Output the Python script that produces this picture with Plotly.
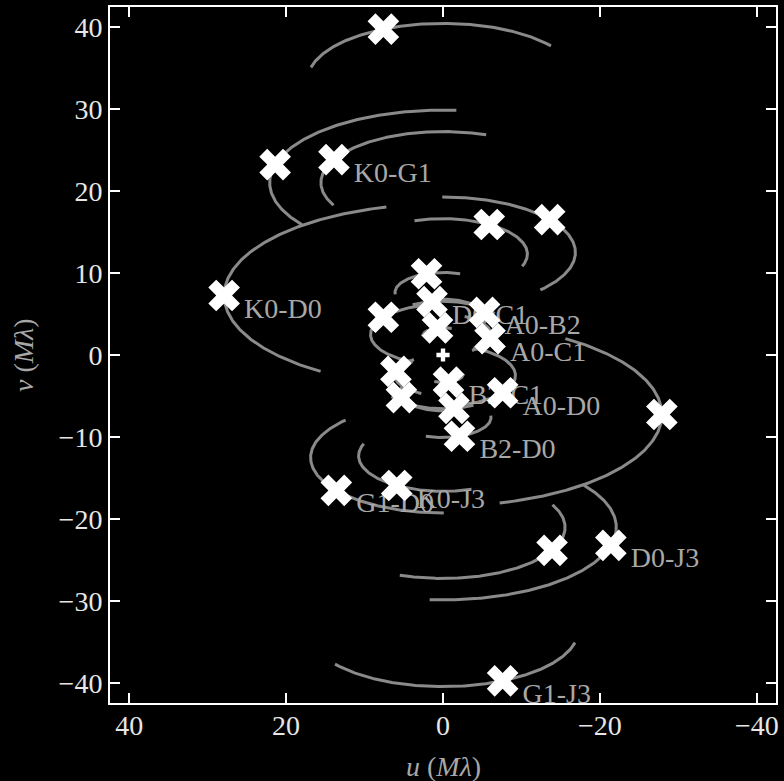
import numpy as np
import plotly.graph_objects as go

# ---- data ----
baselines = ["K0-D0", "K0-G1", "D0-J3", "G1-D0", "K0-J3", "G1-J3",
             "D0-C1", "A0-B2", "A0-C1", "B2-C1", "A0-D0", "B2-D0"]
# (u, v) of each baseline at the snapshot (M lambda)
u_snap = [27.9, 13.9, -21.4, 13.6, 5.9, -7.6, 1.4, -5.3, -6.0, -0.7, -7.6, -2.1]
v_snap = [7.25, 23.8, -23.2, -16.5, -15.9, -39.7, 6.5, 5.2, 2.0, -3.3, -4.6, -9.9]
# v-offset of the centre of each uv-track ellipse (M lambda)
v_centre = [7.25, 21.0, -21.0, -12.5, -12.3, -33.5, 3.5, 4.6, 2.5, -2.3, -2.5, -7.6]
# rotation sense of each track on the plane and its extent (deg) before / after the snapshot
sense = [1, 1, 1, 1, 1, 1, 1, -1, -1, -1, -1, -1]
deg_before = [56, 53, 50, 54, 53, 51, 20, 41, 41, 41, 41, 41]
deg_after = [75, 84, 80, 79, 77, 79, 70, 75, 75, 75, 100, 75]
axis_ratio = 0.4            # v/u semi-axis ratio of the uv ellipses

u_ticks = [40, 20, 0, -20, -40]
v_ticks = [40, 30, 20, 10, 0, -10, -20, -30, -40]
u_range = [42.45, -42.45]
v_range = [-42.4, 42.4]

TRACK = "#8a8a8a"
LABEL = "#a8a8a8"
FONT = "Liberation Serif, Times New Roman, serif"

W, H = 784, 781
ML, MR, MT, MB = 110, 5, 7, 78
px_per_u = (W - ML - MR) / (u_range[0] - u_range[1])
px_per_v = (H - MT - MB) / (v_range[1] - v_range[0])

fig = go.Figure()

# tracks (each baseline and its conjugate)
for um, vm, vc, sg, d0, d1 in zip(u_snap, v_snap, v_centre, sense, deg_before, deg_after):
    a = np.hypot(um, (vm - vc) / axis_ratio)
    b = axis_ratio * a
    tm = np.arctan2(um / a, (vc - vm) / b)
    t = tm + sg * np.radians(np.linspace(-d0, d1, 200))
    u = a * np.sin(t)
    v = vc - b * np.cos(t)
    for s in (1, -1):
        fig.add_trace(go.Scatter(x=s * u, y=s * v, mode="lines",
                                 line=dict(color=TRACK, width=3),
                                 hoverinfo="skip", showlegend=False))

# baseline labels (drawn beneath the markers)
lab_u = [x - 20 / px_per_u for x in u_snap]
lab_v = [y - 15 / px_per_v for y in v_snap]
fig.add_trace(go.Scatter(x=lab_u, y=lab_v, mode="text", text=baselines,
                         textposition="middle right",
                         textfont=dict(family=FONT, size=28, color=LABEL),
                         hoverinfo="skip", showlegend=False))

# snapshot markers and their conjugates
all_u = list(u_snap) + [-x for x in u_snap]
all_v = list(v_snap) + [-y for y in v_snap]
fig.add_trace(go.Scatter(x=all_u, y=all_v, mode="markers",
                         marker=dict(symbol="x", size=28, color="white",
                                     line=dict(width=0)),
                         showlegend=False))
# origin
fig.add_trace(go.Scatter(x=[0], y=[0], mode="markers",
                         marker=dict(symbol="cross", size=11, color="white",
                                     line=dict(width=0)),
                         showlegend=False))

axis_common = dict(showline=True, linecolor="white", linewidth=2, mirror="ticks",
                   ticks="inside", ticklen=10, tickwidth=2, tickcolor="white",
                   showgrid=False, zeroline=False,
                   tickfont=dict(family=FONT, size=28, color="#e6e6e6"))

fig.update_xaxes(range=u_range, tickvals=u_ticks,
                 ticktext=[str(t).replace("-", "\u2212") for t in u_ticks],
                 ticklabelstandoff=-4, **axis_common)
fig.update_yaxes(range=v_range, tickvals=v_ticks,
                 ticktext=[str(t).replace("-", "\u2212") for t in v_ticks],
                 **axis_common)

fig.add_annotation(xref="paper", yref="paper", x=0.5, y=0, yshift=-63,
                   text="<i>u</i> (<i>M\u03bb</i>)", showarrow=False,
                   xanchor="center", yanchor="middle",
                   font=dict(family=FONT, size=28, color=LABEL))
fig.add_annotation(xref="paper", yref="paper", x=0, y=0.5, xshift=-87,
                   text="<i>v</i> (<i>M\u03bb</i>)", showarrow=False, textangle=-90,
                   xanchor="center", yanchor="middle",
                   font=dict(family=FONT, size=28, color=LABEL))

fig.update_layout(width=W, height=H,
                  margin=dict(l=ML, r=MR, t=MT, b=MB),
                  paper_bgcolor="black", plot_bgcolor="black",
                  showlegend=False)

fig.write_html("out.html", config={"displayModeBar": False},
               post_script="document.body.style.margin='0';"
                           "document.body.style.background='black';")
